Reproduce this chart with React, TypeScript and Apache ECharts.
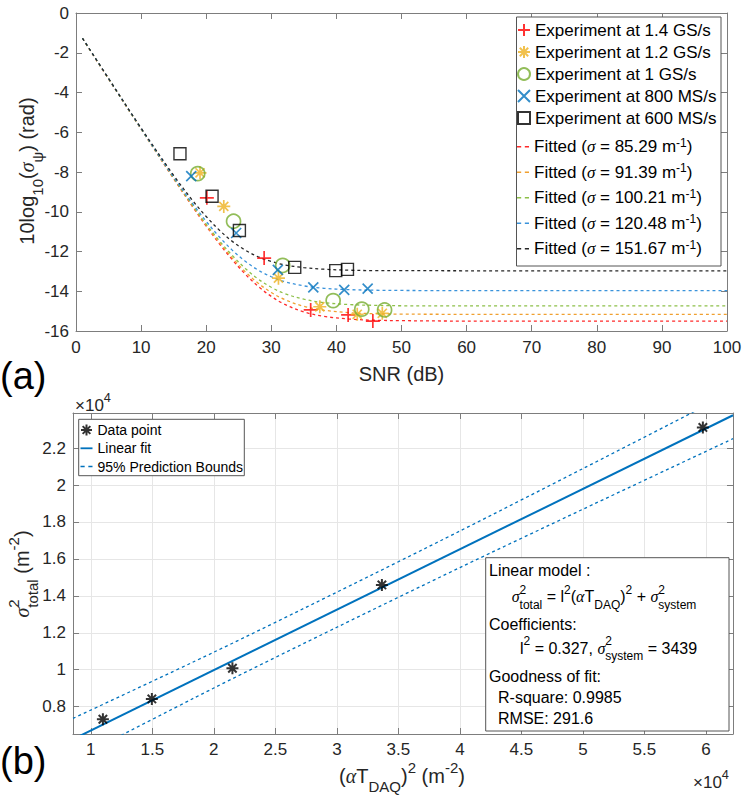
import React, { useEffect, useRef } from 'react';
import * as echarts from 'echarts';

const FONT = '"Liberation Sans", Arial, Helvetica, sans-serif';
const GREEK = '"Liberation Serif", "DejaVu Serif", serif';
const TXT = '#262626';
const AXC = '#7d7d7d';

// ---------- Panel (a) ----------
const expNames = [
  'Experiment at 1.4 GS/s',
  'Experiment at 1.2 GS/s',
  'Experiment at 1 GS/s',
  'Experiment at 800 MS/s',
  'Experiment at 600 MS/s',
];
const expColors = ['#FF0000', '#EDB120', '#77AC30', '#0072BD', '#000000'];
const exp14 = [[20.1, -9.3], [28.9, -12.33], [36.05, -14.94], [41.8, -15.19], [45.6, -15.5]];
const exp12 = [[19.05, -8.04], [22.7, -9.73], [31.1, -13.34], [37.45, -14.78], [43.2, -15.16], [47.05, -15.11]];
const exp10 = [[18.7, -8.08], [24.2, -10.48], [31.75, -12.7], [39.5, -14.47], [43.9, -14.9], [47.4, -14.94]];
const exp800 = [[17.7, -8.21], [24.6, -11.07], [31.0, -12.92], [36.45, -13.8], [41.2, -13.93], [44.8, -13.87]];
const exp600 = [[15.97, -7.08], [20.9, -9.22], [25.1, -10.94], [33.6, -12.8], [39.9, -12.96], [41.7, -12.9]];

const fitSigma = ['85.29', '91.39', '100.21', '120.48', '151.67'];
const fitColors = ['#FF2A2A', '#F0A030', '#8DC049', '#3A93DB', '#262626'];
const fitSNR = [1, 5, 10, 15, 18, 20, 22, 24, 26, 28, 30, 32, 35, 38, 42, 46, 50, 60, 100];
const fit85 = [-1.28, -3.32, -5.84, -8.34, -9.79, -10.72, -11.6, -12.41, -13.14, -13.76, -14.26, -14.65, -15.04, -15.26, -15.4, -15.46, -15.48, -15.5, -15.5];
const fit91 = [-1.28, -3.31, -5.84, -8.32, -9.76, -10.68, -11.54, -12.32, -13.02, -13.6, -14.06, -14.41, -14.76, -14.95, -15.08, -15.13, -15.15, -15.16, -15.16];
const fit100 = [-1.28, -3.31, -5.83, -8.3, -9.72, -10.62, -11.45, -12.2, -12.85, -13.39, -13.8, -14.11, -14.4, -14.57, -14.67, -14.71, -14.73, -14.74, -14.74];
const fit120 = [-1.27, -3.3, -5.82, -8.26, -9.63, -10.48, -11.26, -11.93, -12.49, -12.94, -13.27, -13.51, -13.73, -13.85, -13.92, -13.95, -13.96, -13.97, -13.97];
const fit151 = [-1.27, -3.29, -5.79, -8.17, -9.47, -10.24, -10.92, -11.49, -11.93, -12.27, -12.5, -12.67, -12.81, -12.89, -12.94, -12.96, -12.96, -12.97, -12.97];

// ---------- Panel (b) ----------
const aT2 = [10980, 14960, 21510, 33660, 59750];
const sigTot = [7320, 8420, 10080, 14590, 23120];
const fitLineX = [8550, 62200];
const fitLineY = [6235, 23778];
const boundX = [8550, 20000, 30000, 40000, 50000, 62200];
const upperY = [7365, 10950, 14200, 17510, 20890, 25050];
const lowerY = [5105, 9010, 12300, 15530, 18690, 22510];

const SYM_PLUS = 'path://M0,5 L10,5 M5,0 L5,10';
const SYM_STAR = 'path://M0,5 L10,5 M5,0 L5,10 M1.5,1.5 L8.5,8.5 M1.5,8.5 L8.5,1.5';
const SYM_X = 'path://M0,0 L10,10 M0,10 L10,0';
const SYM_SQ = 'path://M0,0 L10,0 L10,10 L0,10 Z';
const ICON_DASH = 'path://M0,0 L4,0 L4,1.4 L0,1.4 Z M7.5,0 L11.5,0 L11.5,1.4 L7.5,1.4 Z';
const ICON_SOLID = 'path://M0,0 L12,0 L12,1.8 L0,1.8 Z';

let mctx: CanvasRenderingContext2D | null = null;
function measure(t: string, size: number, fam: string, italic: boolean) {
  if (!mctx) mctx = document.createElement('canvas').getContext('2d');
  if (!mctx) return t.length * size * 0.55;
  mctx.font = `${italic ? 'italic ' : ''}${size}px ${fam}`;
  return mctx.measureText(t).width;
}

type Piece = { t?: string; g?: boolean; sup?: string; sub?: string };

function txtEl(text: string, x: number, y: number, size: number, fam: string, italic: boolean, color: string, z: number) {
  return {
    type: 'text',
    x,
    y,
    z,
    silent: true,
    style: {
      text,
      fill: color,
      font: `${italic ? 'italic ' : ''}${size}px ${fam}`,
      textAlign: 'left',
      textVerticalAlign: 'middle',
      align: 'left',
      verticalAlign: 'middle',
    },
  };
}

function mathGroup(pieces: Piece[], size: number, x: number, y: number, anchor: 'left' | 'center', rotate: boolean, z = 12, color = '#000') {
  const small = size * 0.75;
  const kids: any[] = [];
  let cx = 0;
  for (const p of pieces) {
    if (p.t !== undefined) {
      const fam = p.g ? GREEK : FONT;
      const it = !!p.g;
      kids.push(txtEl(p.t, cx, 0, size, fam, it, color, z));
      cx += measure(p.t, size, fam, it);
    } else {
      let w = 0;
      if (p.sup) {
        kids.push(txtEl(p.sup, cx, -size * 0.45, small, FONT, false, color, z));
        w = Math.max(w, measure(p.sup, small, FONT, false));
      }
      if (p.sub) {
        kids.push(txtEl(p.sub, cx, size * 0.5, small, FONT, false, color, z));
        w = Math.max(w, measure(p.sub, small, FONT, false));
      }
      cx += w;
    }
  }
  const off = anchor === 'center' ? -cx / 2 : 0;
  kids.forEach((k) => (k.x += off));
  return { type: 'group', x, y, rotation: rotate ? Math.PI / 2 : 0, z, children: kids };
}

const zip = (xs: number[], ys: number[]) => xs.map((x, i) => [x, ys[i]]);

export default function App() {
  const ref = useRef<HTMLDivElement>(null);
  useEffect(() => {
    if (!ref.current) return;
    const chart = echarts.init(ref.current, undefined, { renderer: 'svg' });

    const fitNames = fitSigma.map((s) => `Fitted (σ = ${s} m-1)`);
    const fitData = [fit85, fit91, fit100, fit120, fit151];
    const expData = [exp14, exp12, exp10, exp800, exp600];
    const expSym = [SYM_PLUS, SYM_STAR, 'circle', SYM_X, SYM_SQ];
    const expSize = [14, 13, 14, 10, 12];

    const tickLabel = { fontFamily: FONT, fontSize: 17, color: TXT };
    const axisLine = { show: true, onZero: false, lineStyle: { color: AXC, width: 1 } };
    const tickIn = { show: true, inside: true, length: 6, lineStyle: { color: AXC } };
    const fmtB = (v: number) => String(parseFloat((v / 10000).toFixed(2)));

    const series: any[] = [];
    fitData.forEach((d, i) => {
      series.push({
        type: 'line',
        name: fitNames[i],
        xAxisIndex: 0,
        yAxisIndex: 0,
        data: zip(fitSNR, d),
        symbol: 'none',
        showSymbol: false,
        smooth: 0.35,
        lineStyle: { color: fitColors[i], width: 1.3, type: [3, 3] },
        itemStyle: { color: fitColors[i] },
        z: 2,
      });
    });
    expData.forEach((d, i) => {
      series.push({
        type: 'scatter',
        name: expNames[i],
        xAxisIndex: 0,
        yAxisIndex: 0,
        data: d,
        symbol: expSym[i],
        symbolSize: expSize[i],
        itemStyle: { color: 'rgba(0,0,0,0)', borderColor: expColors[i], borderWidth: i === 4 ? 1.4 : 1.7 },
        z: 3,
      });
    });
    series.push({
      type: 'line',
      name: '95% Prediction Bounds',
      xAxisIndex: 2,
      yAxisIndex: 2,
      data: zip(boundX, upperY),
      symbol: 'none',
      showSymbol: false,
      smooth: 0.3,
      lineStyle: { color: '#0072BD', width: 1.3, type: [3, 3] },
      itemStyle: { color: '#0072BD' },
      z: 2,
    });
    series.push({
      type: 'line',
      name: '95% Prediction Bounds',
      xAxisIndex: 2,
      yAxisIndex: 2,
      data: zip(boundX, lowerY),
      symbol: 'none',
      showSymbol: false,
      smooth: 0.3,
      lineStyle: { color: '#0072BD', width: 1.3, type: [3, 3] },
      itemStyle: { color: '#0072BD' },
      z: 2,
    });
    series.push({
      type: 'line',
      name: 'Linear fit',
      xAxisIndex: 2,
      yAxisIndex: 2,
      data: zip(fitLineX, fitLineY),
      symbol: 'none',
      showSymbol: false,
      lineStyle: { color: '#0072BD', width: 2 },
      itemStyle: { color: '#0072BD' },
      z: 3,
    });
    series.push({
      type: 'scatter',
      name: 'Data point',
      xAxisIndex: 2,
      yAxisIndex: 2,
      data: zip(aT2, sigTot),
      symbol: SYM_STAR,
      symbolSize: 12,
      itemStyle: { color: 'rgba(0,0,0,0)', borderColor: '#000', borderWidth: 2 },
      z: 4,
    });

    const graphic: any[] = [
      // legend boxes
      { type: 'rect', z: 10, silent: true, shape: { x: 516.5, y: 17, width: 204.5, height: 249 }, style: { fill: '#fff', stroke: '#555', lineWidth: 1 } },
      { type: 'rect', z: 10, silent: true, shape: { x: 78.7, y: 419.3, width: 165.6, height: 56.4 }, style: { fill: '#fff', stroke: '#555', lineWidth: 1 } },
      { type: 'rect', z: 10, silent: true, shape: { x: 485.7, y: 557.7, width: 243.3, height: 173.3 }, style: { fill: '#fff', stroke: '#555', lineWidth: 1 } },
      // panel labels
      txtEl('(a)', 0, 376, 38, FONT, false, '#000', 12),
      txtEl('(b)', 0, 761, 38, FONT, false, '#000', 12),
      // axis titles (a)
      mathGroup([{ t: 'SNR (dB)' }], 20, 401.5, 374, 'center', false, 12, TXT),
      mathGroup([{ t: '10log' }, { sub: '10' }, { t: '(' }, { t: 'σ', g: true }, { sub: 'ψ' }, { t: ') (rad)' }], 20, 27, 171, 'center', true, 12, TXT),
      // axis titles (b)
      mathGroup([{ t: '(' }, { t: 'α', g: true }, { t: 'T' }, { sub: 'DAQ' }, { t: ')' }, { sup: '2' }, { t: ' (m' }, { sup: '-2' }, { t: ')' }], 20, 402, 776, 'center', false, 12, TXT),
      mathGroup([{ t: 'σ', g: true }, { sup: '2', sub: 'total' }, { t: ' (m' }, { sup: '-2' }, { t: ')' }], 20, 22, 574, 'center', true, 12, TXT),
      // exponent labels
      mathGroup([{ t: '×10' }, { sup: '4' }], 17, 75, 405, 'left', false, 12, TXT),
      mathGroup([{ t: '×10' }, { sup: '4' }], 17, 693, 782, 'left', false, 12, TXT),
      // text box
      mathGroup([{ t: 'Linear model :' }], 16, 489, 570.7, 'left', false),
      mathGroup([
        { t: 'σ', g: true }, { sup: '2', sub: 'total' }, { t: ' = l' }, { sup: '2' }, { t: '(' }, { t: 'α', g: true }, { t: 'T' }, { sub: 'DAQ' }, { t: ')' }, { sup: '2' }, { t: ' + ' }, { t: 'σ', g: true }, { sup: '2', sub: 'system' },
      ], 16, 511.7, 596.7, 'left', false),
      mathGroup([{ t: 'Coefficients:' }], 16, 489, 624, 'left', false),
      mathGroup([{ t: 'l' }, { sup: '2' }, { t: ' = 0.327, ' }, { t: 'σ', g: true }, { sup: '2', sub: 'system' }, { t: ' = 3439' }], 16, 520, 648, 'left', false),
      mathGroup([{ t: 'Goodness of fit:' }], 16, 489, 676.7, 'left', false),
      mathGroup([{ t: 'R-square: 0.9985' }], 16, 498, 697.3, 'left', false),
      mathGroup([{ t: 'RMSE: 291.6' }], 16, 498, 718.3, 'left', false),
    ];

    const option: any = {
      animation: false,
      backgroundColor: '#fff',
      grid: [
        { left: 76, top: 13, width: 651, height: 318, show: false },
        { left: 73, top: 413, width: 660, height: 321, show: false },
      ],
      xAxis: [
        { type: 'value', gridIndex: 0, position: 'bottom', min: 0, max: 100, interval: 10, axisLine, axisTick: tickIn, axisLabel: { ...tickLabel, margin: 8 }, splitLine: { show: false } },
        { type: 'value', gridIndex: 0, position: 'top', min: 0, max: 100, interval: 10, axisLine, axisTick: tickIn, axisLabel: { show: false }, splitLine: { show: false } },
        { type: 'value', gridIndex: 1, position: 'bottom', min: 8550, max: 62200, minInterval: 5000, maxInterval: 5000, axisLine, axisTick: tickIn, axisLabel: { ...tickLabel, margin: 7, showMinLabel: false, showMaxLabel: false, formatter: fmtB }, splitLine: { show: true, lineStyle: { color: '#e6e6e6', width: 1 } } },
        { type: 'value', gridIndex: 1, position: 'top', min: 8550, max: 62200, minInterval: 5000, maxInterval: 5000, axisLine, axisTick: tickIn, axisLabel: { show: false }, splitLine: { show: false } },
      ],
      yAxis: [
        { type: 'value', gridIndex: 0, position: 'left', min: -16, max: 0, interval: 2, axisLine, axisTick: tickIn, axisLabel: { ...tickLabel, margin: 7 }, splitLine: { show: false } },
        { type: 'value', gridIndex: 0, position: 'right', min: -16, max: 0, interval: 2, axisLine, axisTick: tickIn, axisLabel: { show: false }, splitLine: { show: false } },
        { type: 'value', gridIndex: 1, position: 'left', min: 6520, max: 23900, minInterval: 2000, maxInterval: 2000, axisLine, axisTick: tickIn, axisLabel: { ...tickLabel, margin: 7, showMinLabel: false, showMaxLabel: false, formatter: fmtB }, splitLine: { show: true, lineStyle: { color: '#e6e6e6', width: 1 } } },
        { type: 'value', gridIndex: 1, position: 'right', min: 6520, max: 23900, minInterval: 2000, maxInterval: 2000, axisLine, axisTick: tickIn, axisLabel: { show: false }, splitLine: { show: false } },
      ],
      legend: [
        {
          data: expNames,
          orient: 'vertical',
          left: 517,
          top: 21,
          padding: 0,
          itemGap: 4,
          itemWidth: 12,
          itemHeight: 12,
          z: 20,
          selectedMode: false,
          textStyle: { fontFamily: FONT, fontSize: 17, color: '#000', lineHeight: 18 },
        },
        {
          data: fitNames.map((n, i) => ({
            name: n,
            icon: ICON_DASH,
            itemStyle: { color: fitColors[i], borderWidth: 0 },
          })),
          orient: 'vertical',
          left: 517,
          top: 136.7,
          padding: 0,
          itemGap: 7,
          itemWidth: 12,
          itemHeight: 3,
          z: 20,
          selectedMode: false,
          formatter: (name: string) => {
            const i = fitNames.indexOf(name);
            return `{b|Fitted (}{g|σ}{b| = ${fitSigma[i]} m}{s|-1}{b|)}`;
          },
          textStyle: {
            fontFamily: FONT,
            fontSize: 17,
            color: '#000',
            rich: {
              b: { fontFamily: FONT, fontSize: 17, lineHeight: 20, color: '#000' },
              g: { fontFamily: GREEK, fontStyle: 'italic', fontSize: 17, lineHeight: 20, color: '#000' },
              s: { fontFamily: FONT, fontSize: 12, lineHeight: 12, verticalAlign: 'top', color: '#000' },
            },
          },
        },
        {
          data: [
            { name: 'Data point' },
            { name: 'Linear fit', icon: ICON_SOLID, itemStyle: { color: '#0072BD', borderWidth: 0 } },
            { name: '95% Prediction Bounds', icon: ICON_DASH, itemStyle: { color: '#0072BD', borderWidth: 0 } },
          ],
          orient: 'vertical',
          left: 80,
          top: 422,
          padding: 0,
          itemGap: 2.3,
          itemWidth: 12,
          itemHeight: 11,
          z: 20,
          selectedMode: false,
          textStyle: { fontFamily: FONT, fontSize: 14, color: '#000', lineHeight: 16 },
        },
      ],
      graphic: { elements: graphic },
      series,
    };
    chart.setOption(option);
    return () => chart.dispose();
  }, []);
  return <div ref={ref} style={{ position: 'absolute', left: 0, top: 0, width: 745, height: 796, background: '#fff' }} />;
}
